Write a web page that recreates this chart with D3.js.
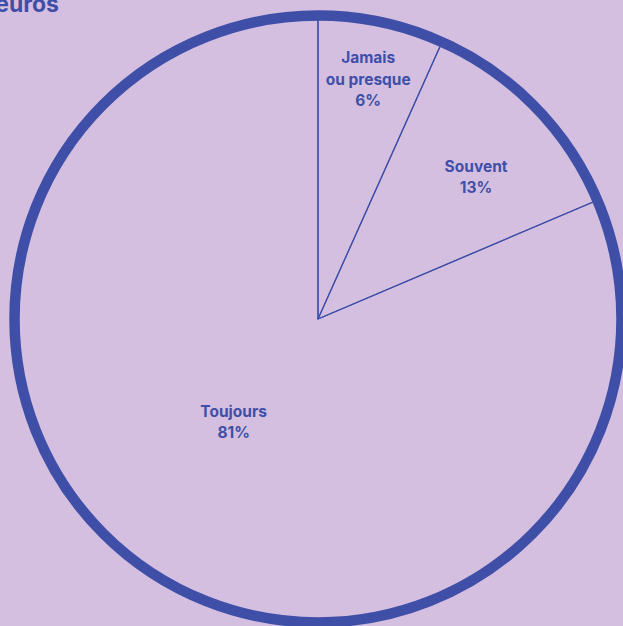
<!DOCTYPE html>
<html>
<head>
<meta charset="utf-8">
<script src="https://cdn.jsdelivr.net/npm/d3@7"></script>
<style>
  html, body { margin: 0; padding: 0; background: #d5bfe0; overflow: hidden; }
  svg { display: block; }
  .lbl { font-family: Inter, "Noto Sans", sans-serif; font-weight: 700; fill: #3f4fa8; }
</style>
</head>
<body>
<div id="chart"></div>
<script>
// data
var categories = ["Jamais ou presque", "Souvent", "Toujours"];
var labelLines = [["Jamais", "ou presque"], ["Souvent"], ["Toujours"]];
var shares = [6.7, 11.9, 81.4];          // slice sizes as drawn
var shownPct = ["6%", "13%", "81%"];     // printed labels

var W = 623, H = 626,
    cx = 318, cy = 319,
    radius = 303.5,
    blue = "#3f4fa8";

// each label sits at its own distance from the centre, then nudged
var labelR = [245, 213, 133];
var labelNudge = [[-1, 0], [6, 7], [-11, -8]];

var svg = d3.select("#chart").append("svg").attr("width", W).attr("height", H);

svg.append("rect").attr("width", W).attr("height", H).attr("fill", "#d5bfe0");

svg.append("text")
    .attr("class", "lbl")
    .attr("x", 59).attr("y", 12)
    .attr("text-anchor", "end")
    .style("font-size", "23px")
    .text("euros");

var g = svg.append("g").attr("transform", "translate(" + cx + "," + cy + ")");

var pie = d3.pie().sort(null).value(function(d) { return d; });
var arcs = pie(shares);

var arc = d3.arc().innerRadius(0).outerRadius(radius);

g.selectAll("path.slice")
    .data(arcs)
    .enter().append("path")
    .attr("class", "slice")
    .attr("d", arc)
    .attr("fill", "none")
    .attr("stroke", blue)
    .attr("stroke-width", 1.2)
    .attr("stroke-linejoin", "round");

g.append("circle")
    .attr("r", radius)
    .attr("fill", "none")
    .attr("stroke", blue)
    .attr("stroke-width", 10.5);

var lab = g.selectAll("g.lab")
    .data(arcs)
    .enter().append("g")
    .attr("class", "lab")
    .attr("transform", function(d, i) {
        var c = d3.arc().innerRadius(labelR[i]).outerRadius(labelR[i]).centroid(d);
        return "translate(" + (c[0] + labelNudge[i][0]) + "," + (c[1] + labelNudge[i][1]) + ")";
    });

lab.each(function(d, i) {
    var lines = labelLines[i].concat([shownPct[i]]);
    var lh = 21.5;
    var t = d3.select(this).append("text")
        .attr("class", "lbl")
        .attr("text-anchor", "middle")
        .style("font-size", "15.5px");
    lines.forEach(function(s, k) {
        t.append("tspan")
            .attr("x", 0)
            .attr("y", (k - (lines.length - 1) / 2) * lh + 5.5)
            .text(s);
    });
});
</script>
</body>
</html>
